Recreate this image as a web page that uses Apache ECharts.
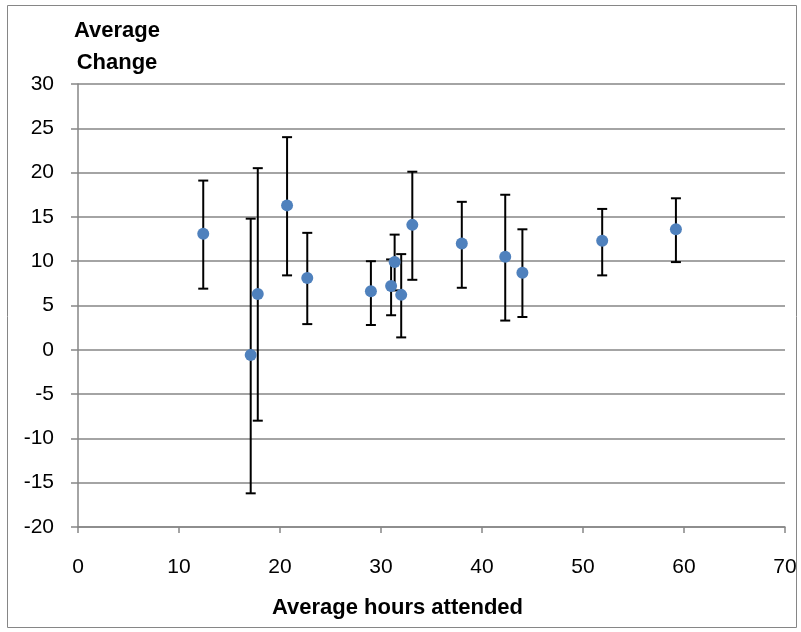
<!DOCTYPE html>
<html><head><meta charset="utf-8">
<script src="https://cdn.jsdelivr.net/npm/echarts@6/dist/echarts.min.js"></script>
<style>html,body{margin:0;padding:0;background:#fff}#c{width:801px;height:632px}</style>
</head><body><div id="c"></div>
<script>
const hours   = [12.4, 17.1, 17.8, 20.7, 22.7, 29.0, 31.0, 31.35, 32.0, 33.1, 38.0, 42.3, 44.0, 51.9, 59.2];
const change  = [13.1, -0.6, 6.3, 16.3, 8.1, 6.6, 7.2, 9.9, 6.2, 14.1, 12.0, 10.5, 8.7, 12.3, 13.6];
const errLow  = [6.9, -16.2, -8.0, 8.4, 2.9, 2.8, 3.9, 6.7, 1.4, 7.9, 7.0, 3.3, 3.7, 8.4, 9.9];
const errHigh = [19.1, 14.8, 20.5, 24.0, 13.2, 10.0, 10.2, 13.0, 10.8, 20.1, 16.7, 17.5, 13.6, 15.9, 17.1];
const xTicks = [0, 10, 20, 30, 40, 50, 60, 70];
const yTicks = [-20, -15, -10, -5, 0, 5, 10, 15, 20, 25, 30];

const font = '"Liberation Sans",Arial,sans-serif';
const chart = echarts.init(document.getElementById('c'));
const points = hours.map((h, i) => [h, change[i]]);
const bars = hours.map((h, i) => [h, errLow[i], errHigh[i]]);
chart.setOption({
  animation: false,
  grid: {left: 78, right: 16, top: 84, bottom: 105},
  graphic: [
    {type: 'rect', shape: {x: 7.5, y: 5.5, width: 789, height: 622}, style: {fill: 'none', stroke: '#868686', lineWidth: 1}, z: -1},
    {type: 'text', x: 117, y: 15, style: {text: 'Average\nChange', font: 'bold 22px ' + font, textAlign: 'center', lineHeight: 32, fill: '#000'}}
  ],
  xAxis: {
    type: 'value', min: xTicks[0], max: xTicks[xTicks.length - 1], interval: 10,
    name: 'Average hours attended', nameLocation: 'middle', nameGap: 70,
    nameTextStyle: {fontFamily: font, fontSize: 22, fontWeight: 'bold', color: '#000', padding: [0, 68, 0, 0]},
    axisLine: {onZero: false, lineStyle: {color: '#868686', width: 1.5}},
    axisTick: {show: true, inside: false, length: 6, lineStyle: {color: '#868686', width: 1.5}},
    axisLabel: {fontFamily: font, fontSize: 21, color: '#000', margin: 30},
    splitLine: {show: false}
  },
  yAxis: {
    type: 'value', min: yTicks[0], max: yTicks[yTicks.length - 1], interval: 5,
    axisLine: {show: true, lineStyle: {color: '#868686', width: 1.5}},
    axisTick: {show: true, inside: false, length: 7, lineStyle: {color: '#868686', width: 1.5}},
    axisLabel: {fontFamily: font, fontSize: 21, color: '#000', margin: 24},
    splitLine: {show: true, lineStyle: {color: '#868686', width: 1.5}}
  },
  series: [
    {
      type: 'custom',
      data: bars,
      z: 2,
      renderItem: function (params, api) {
        const x = api.value(0);
        const lo = api.coord([x, api.value(1)]);
        const hi = api.coord([x, api.value(2)]);
        const w = 5;
        const st = {stroke: '#000', lineWidth: 2};
        return {type: 'group', children: [
          {type: 'line', shape: {x1: lo[0], y1: lo[1], x2: hi[0], y2: hi[1]}, style: st},
          {type: 'line', shape: {x1: lo[0] - w, y1: lo[1], x2: lo[0] + w, y2: lo[1]}, style: st},
          {type: 'line', shape: {x1: hi[0] - w, y1: hi[1], x2: hi[0] + w, y2: hi[1]}, style: st}
        ]};
      }
    },
    {
      type: 'scatter', data: points, symbol: 'circle', symbolSize: 12, z: 3,
      itemStyle: {color: '#4f81bd', opacity: 1}
    }
  ]
});
</script></body></html>
